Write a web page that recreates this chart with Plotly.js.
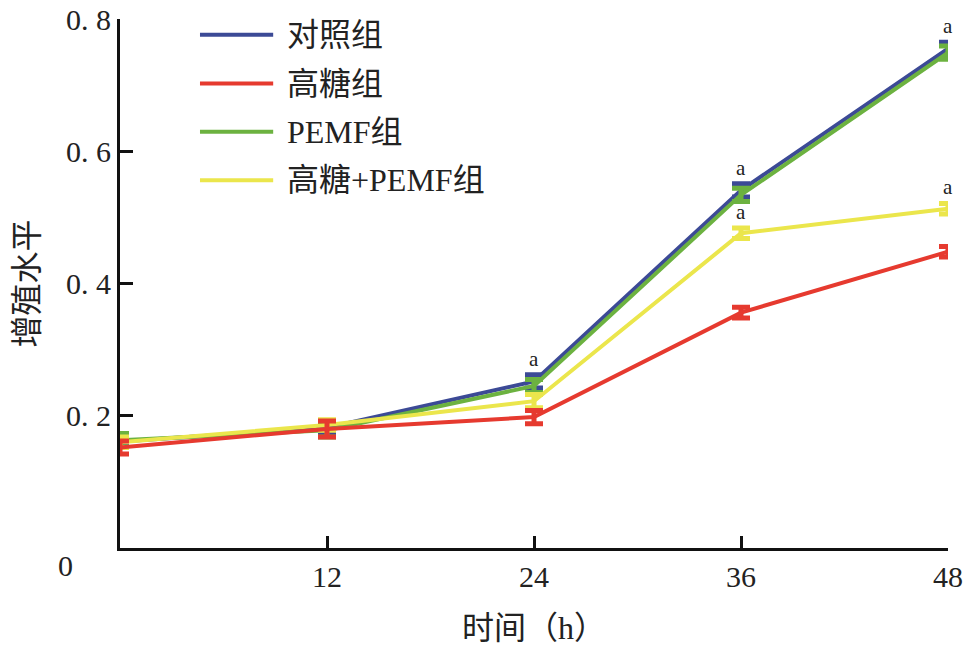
<!DOCTYPE html>
<html>
<head>
<meta charset="utf-8">
<script src="https://cdn.plot.ly/plotly-3.0.1.min.js"></script>
<style>html,body{margin:0;padding:0;background:#fff;}#chart{width:965px;height:648px;}</style>
</head>
<body>
<div id="chart"></div>
<script>
// ---- data ----
const hours = [0, 12, 24, 36, 48];
const seriesNames = ['对照组', '高糖组', 'PEMF组', '高糖+PEMF组'];
const controlValues = [0.161, 0.182, 0.252, 0.541, 0.755];
const highGlucoseValues = [0.152, 0.180, 0.198, 0.356, 0.448];
const pemfValues = [0.163, 0.178, 0.245, 0.534, 0.749];
const hgPemfValues = [0.160, 0.186, 0.222, 0.476, 0.513];
const controlErr = [0.008, 0.008, 0.010, 0.010, 0.010];
const highGlucoseErr = [0.010, 0.012, 0.010, 0.008, 0.008];
const pemfErr = [0.010, 0.010, 0.010, 0.010, 0.010];
const hgPemfErr = [0.008, 0.008, 0.010, 0.008, 0.008];
const controlSig = ['', '', 'a', 'a', 'a'];
const hgPemfSig = ['', '', '', 'a', 'a'];
const yTickVals = [0.2, 0.4, 0.6, 0.8];
const yTickText = ['0. 2', '0. 4', '0. 6', '0. 8'];
const xTickVals = [12, 24, 36, 48];
const xTickText = ['12', '24', '36', '48'];

const colors = ['#3c4a96', '#e63a2f', '#6cb240', '#ebe64c'];
const FONT = 'Liberation Serif, Noto Sans CJK SC, serif';

const allValues = [controlValues, highGlucoseValues, pemfValues, hgPemfValues];
const allErr = [controlErr, highGlucoseErr, pemfErr, hgPemfErr];
const drawOrder = [0, 2, 3, 1];

const traces = drawOrder.map(i => ({
  x: hours,
  y: allValues[i],
  name: seriesNames[i],
  type: 'scatter',
  mode: 'lines',
  line: {color: colors[i], width: 4},
  error_y: {type: 'data', array: allErr[i], visible: true, color: colors[i], thickness: 5, width: 9},
  cliponaxis: false,
  showlegend: false
}));

const annotations = [];
// significance marks
[[controlValues, controlErr, controlSig], [hgPemfValues, hgPemfErr, hgPemfSig]].forEach(([vals, errs, sig]) => {
  sig.forEach((s, k) => {
    if (s) annotations.push({
      x: hours[k], y: vals[k] + errs[k], xref: 'x', yref: 'y', text: s,
      showarrow: false, yanchor: 'bottom', yshift: 2,
      font: {family: FONT, size: 21, color: '#222'}
    });
  });
});
// origin label
annotations.push({x: -0.066, y: 0, xref: 'paper', yref: 'paper', text: '0', showarrow: false,
  xanchor: 'center', yanchor: 'middle', yshift: -17, font: {family: FONT, size: 30, color: '#222'}});

// custom legend
const legendY = [0.970, 0.878, 0.787, 0.695];
const shapes = [];
seriesNames.forEach((n, i) => {
  shapes.push({type: 'line', xref: 'paper', yref: 'paper', x0: 0.0966, x1: 0.185, y0: legendY[i], y1: legendY[i],
    line: {color: colors[i], width: 4}});
  annotations.push({x: 0.199, y: legendY[i], xref: 'paper', yref: 'paper', text: n, showarrow: false,
    xanchor: 'left', yanchor: 'middle', font: {family: FONT, size: 32, color: '#222'}});
});

const layout = {
  width: 965, height: 648,
  margin: {l: 120, r: 17, t: 19, b: 100},
  paper_bgcolor: '#fff', plot_bgcolor: '#fff',
  showlegend: false,
  xaxis: {
    range: [0, 48], tickvals: xTickVals, ticktext: xTickText,
    ticks: 'inside', ticklen: 12, tickwidth: 3, tickcolor: '#111',
    showline: true, linewidth: 3, linecolor: '#111', showgrid: false, zeroline: false,
    tickfont: {family: FONT, size: 30, color: '#222'},
    title: {text: '时间（h）', font: {family: FONT, size: 32, color: '#222'}, standoff: 25}
  },
  yaxis: {
    range: [0, 0.8], tickvals: yTickVals, ticktext: yTickText,
    ticks: 'inside', ticklen: 13, tickwidth: 3, tickcolor: '#111',
    showline: true, linewidth: 3, linecolor: '#111', showgrid: false, zeroline: false,
    tickfont: {family: FONT, size: 30, color: '#222'},
    title: {text: '增殖水平', font: {family: FONT, size: 32, color: '#222'}, standoff: 18}
  },
  annotations: annotations,
  shapes: shapes
};

Plotly.newPlot('chart', traces, layout, {staticPlot: true});
</script>
</body>
</html>
